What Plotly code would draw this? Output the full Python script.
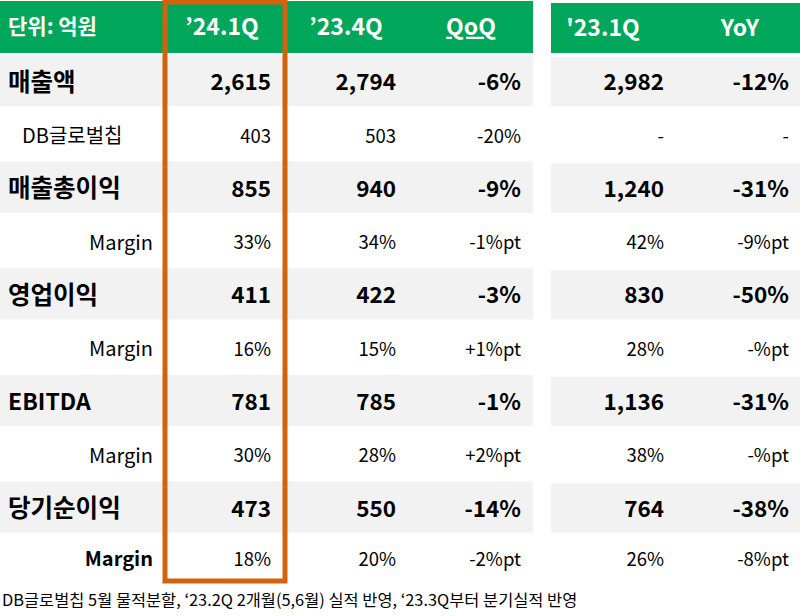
import plotly.graph_objects as go

# ---- data ----
row_labels = ["매출액", "DB글로벌칩", "매출총이익", "Margin", "영업이익", "Margin", "EBITDA", "Margin", "당기순이익", "Margin"]
q24_1 = ["2,615", "403", "855", "33%", "411", "16%", "781", "30%", "473", "18%"]
q23_4 = ["2,794", "503", "940", "34%", "422", "15%", "785", "28%", "550", "20%"]
qoq = ["-6%", "-20%", "-9%", "-1%pt", "-3%", "+1%pt", "-1%", "+2%pt", "-14%", "-2%pt"]
q23_1 = ["2,982", "-", "1,240", "42%", "830", "28%", "1,136", "38%", "764", "26%"]
yoy = ["-12%", "-", "-31%", "-9%pt", "-50%", "-%pt", "-31%", "-%pt", "-38%", "-8%pt"]
left_headers = ["’24.1Q", "’23.4Q", "<u>QoQ</u>"]
right_headers = ["'23.1Q", "YoY"]
unit_label = "단위: 억원"
footnote = "DB글로벌칩 5월 물적분할, ‘23.2Q 2개월(5,6월) 실적 반영, ‘23.3Q부터 분기실적 반영"
bold_rows = [0, 2, 4, 6, 8]

# ---- layout constants ----
W, H = 800, 616
GREEN = "#00A65A"
GREY = "#F2F2F2"
ORANGE = "#D2620E"
FONT = "Noto Sans CJK KR"
HEADER_TOP, HEADER_BOT = 1, 54
ROW_H = 53.3
LAST_ROW_H = 47
TEXT_DY = 4
LEFT_X0, LEFT_X1 = 0, 533
RIGHT_X0, RIGHT_X1 = 551, 800
left_right_edges = [271, 396, 521]
right_right_edges = [664, 789]
left_header_centers = [222, 346, 471]
right_header_centers = [603, 740]
SZ_HEAD, SZ_UNIT = 23, 21
SZ_BOLD_LABEL_KO, SZ_BOLD_LABEL_EN, SZ_BOLD_NUM = 24.5, 23, 22.5
SZ_NORM, SZ_MARGIN, SZ_NORM_KO, SZ_FOOT = 18.5, 20, 20, 16.4

n = len(row_labels)
row_top = [HEADER_BOT + ROW_H * i for i in range(n)]
row_h = [ROW_H] * (n - 1) + [LAST_ROW_H]
row_mid = [t + h / 2 for t, h in zip(row_top, row_h)]
text_y = [m + TEXT_DY for m in row_mid]

shapes = []
# header bands
for x0, x1, top in [(LEFT_X0, LEFT_X1, HEADER_TOP), (RIGHT_X0, RIGHT_X1, 3)]:
    shapes.append(dict(type="rect", xref="x", yref="y", x0=x0, x1=x1, y0=top,
                       y1=HEADER_BOT - 1, fillcolor=GREEN, line_width=0, layer="below"))
# grey rows
for i in bold_rows:
    for x0, x1, dy in [(LEFT_X0, LEFT_X1, 0), (RIGHT_X0, RIGHT_X1, 2)]:
        shapes.append(dict(type="rect", xref="x", yref="y", x0=x0, x1=x1, y0=row_top[i] + 1 + dy,
                           y1=row_top[i] + ROW_H - 1, fillcolor=GREY, line_width=0, layer="below"))
# orange highlight box around the first value column
shapes.append(dict(type="rect", xref="x", yref="y", x0=165, x1=285, y0=2, y1=581,
                   line=dict(color=ORANGE, width=5), fillcolor="rgba(0,0,0,0)", layer="above"))

fig = go.Figure()


def add_text(xs, ys, texts, pos, sizes, colors="#000000"):
    fig.add_trace(go.Scatter(
        x=xs, y=ys, text=texts, mode="text", textposition=pos,
        textfont=dict(family=FONT, size=sizes, color=colors),
        hoverinfo="skip", showlegend=False, cliponaxis=False))


# headers
add_text([8], [HEADER_BOT / 2 + 2], ["<b>" + unit_label + "</b>"], "middle right", [SZ_UNIT], "#FFFFFF")
add_text(left_header_centers, [HEADER_BOT / 2 + 2] * 3, ["<b>" + h + "</b>" for h in left_headers],
         "middle center", [SZ_HEAD] * 3, "#FFFFFF")
add_text(right_header_centers, [HEADER_BOT / 2 + 3] * 2, ["<b>" + h + "</b>" for h in right_headers],
         "middle center", [SZ_HEAD] * 2, "#FFFFFF")

# row labels
for i, lab in enumerate(row_labels):
    if i in bold_rows:
        sz = SZ_BOLD_LABEL_EN if lab.isascii() else SZ_BOLD_LABEL_KO
        add_text([8], [text_y[i]], ["<b>" + lab + "</b>"], "middle right", [sz])
    elif lab == "Margin":
        t = "<b>" + lab + "</b>" if i == n - 1 else lab
        add_text([153], [text_y[i]], [t], "middle left", [SZ_MARGIN])
    else:
        add_text([22], [text_y[i]], [lab], "middle right", [SZ_NORM_KO])

# values
for col, xr in list(zip([q24_1, q23_4, qoq], left_right_edges)) + list(zip([q23_1, yoy], right_right_edges)):
    texts = ["<b>" + v + "</b>" if i in bold_rows else v for i, v in enumerate(col)]
    sizes = [SZ_BOLD_NUM if i in bold_rows else SZ_NORM for i in range(n)]
    add_text([xr] * n, text_y, texts, "middle left", sizes)

# footnote
add_text([2], [602], [footnote], "middle right", [SZ_FOOT])

fig.update_layout(
    width=W, height=H, margin=dict(l=0, r=0, t=0, b=0),
    paper_bgcolor="white", plot_bgcolor="white",
    xaxis=dict(range=[0, W], visible=False, fixedrange=True),
    yaxis=dict(range=[H, 0], visible=False, fixedrange=True),
    shapes=shapes,
)
fig.write_html("out.html", config={"displayModeBar": False},
               post_script="document.body.style.margin='0px';document.body.style.overflow='hidden';")
